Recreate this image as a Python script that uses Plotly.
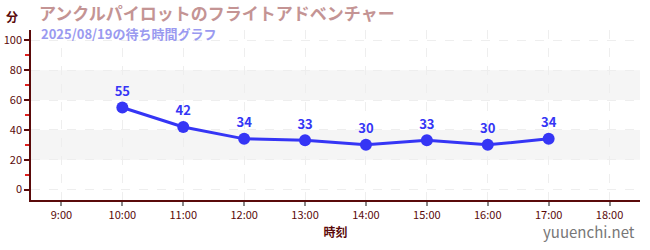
import plotly.graph_objects as go

categories = ["9:00", "10:00", "11:00", "12:00", "13:00", "14:00", "15:00", "16:00", "17:00", "18:00"]
times = ["10:00", "11:00", "12:00", "13:00", "14:00", "15:00", "16:00", "17:00"]
waits = [55, 42, 34, 33, 30, 33, 30, 34]
y_ticks = [0, 20, 40, 60, 80, 100]
bands = [(20, 40), (60, 80)]

title = "アンクルパイロットのフライトアドベンチャー"
subtitle = "2025/08/19の待ち時間グラフ"
font = "Noto Sans CJK JP"
axis_col = "#5a0a0a"
line_col = "#3535f5"

fig = go.Figure()
fig.add_trace(go.Scatter(
    x=times, y=waits, mode="lines+markers+text",
    text=[str(v) for v in waits], textposition="top center",
    textfont=dict(family=font, size=13, color=line_col, weight="bold"),
    line=dict(color=line_col, width=3),
    marker=dict(color=line_col, size=12),
    cliponaxis=False, showlegend=False,
))

for lo, hi in bands:
    fig.add_shape(type="rect", xref="paper", yref="y", x0=0, x1=1, y0=lo, y1=hi,
                  fillcolor="#f5f5f5", line=dict(width=0), layer="below")

fig.update_layout(
    width=650, height=250,
    margin=dict(l=31, r=10, t=30, b=50),
    paper_bgcolor="white", plot_bgcolor="white",
    font=dict(family=font, color=axis_col),
    xaxis=dict(
        type="category", categoryorder="array", categoryarray=categories,
        range=[-0.5, 9.5], showline=True, linecolor=axis_col, linewidth=1.5,
        ticks="outside", tickcolor="#888888", ticklen=4, tickwidth=2,
        tickfont=dict(size=11, color=axis_col),
        showgrid=True, gridcolor="#eeeeee", griddash="dash", gridwidth=1,
        title=dict(text="時刻", font=dict(size=12, color=axis_col, weight="bold"), standoff=8),
        zeroline=False, fixedrange=True, automargin=False,
    ),
    yaxis=dict(
        range=[-7, 107], tickvals=y_ticks, showline=True, linecolor=axis_col, linewidth=1.5,
        ticks="outside", tickcolor=axis_col, ticklen=5, tickwidth=1.5,
        tickfont=dict(size=11, color=axis_col),
        showgrid=True, gridcolor="#eeeeee", griddash="dash", gridwidth=1,
        zeroline=False, fixedrange=True, automargin=False,
        minor=dict(dtick=10, tick0=10, ticks="outside", ticklen=4, tickcolor="#dd2222", showgrid=False),
    ),
    annotations=[
        dict(text=title, xref="paper", yref="paper", x=0, xshift=6, y=1.0, yshift=18,
             xanchor="left", yanchor="middle", showarrow=False,
             font=dict(family=font, size=17, color="#c49494", weight="bold")),
        dict(text=subtitle, xref="paper", yref="paper", x=0, xshift=8, y=1.0, yshift=-3,
             xanchor="left", yanchor="middle", showarrow=False,
             font=dict(family=font, size=13, color="#9a9af0", weight="bold")),
        dict(text="分", xref="paper", yref="paper", x=0, xshift=-19, y=1.0, yshift=14,
             xanchor="center", yanchor="middle", showarrow=False,
             font=dict(family=font, size=12, color=axis_col, weight="bold")),
        dict(text="yuuenchi.net", xref="paper", yref="paper", x=1.0, xshift=-3, y=0, yshift=-31,
             xanchor="right", yanchor="middle", showarrow=False,
             font=dict(family=font, size=15, color="#777777")),
    ],
)

fig.write_html("out.html")
